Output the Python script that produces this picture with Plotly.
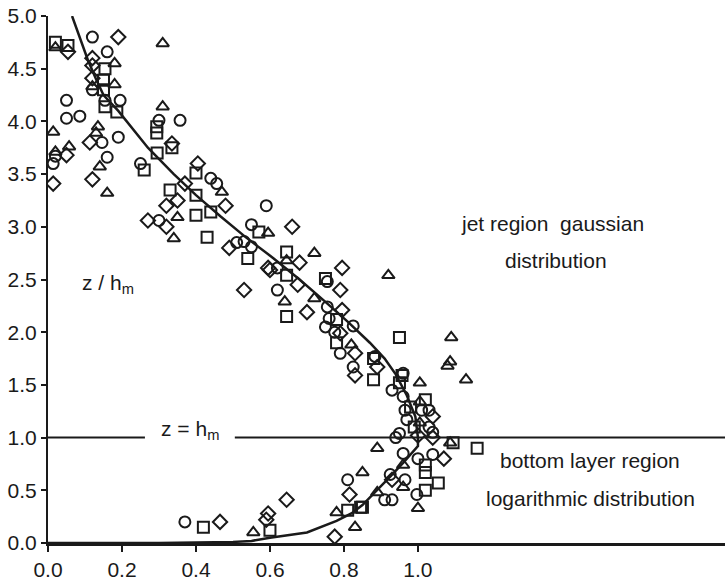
import plotly.graph_objects as go

# ---- data (u/Um, z/hm) ----
circle_u = [0.12, 0.16, 0.12, 0.154, 0.195, 0.30, 0.357, 0.05, 0.05, 0.086, 0.014, 0.02, 0.146, 0.19, 0.16,
            0.25, 0.44, 0.456, 0.30, 0.59, 0.55, 0.51, 0.53, 0.55, 0.62, 0.62, 0.755, 0.755, 0.76, 0.75, 0.775,
            0.825, 0.79, 0.825, 0.884, 0.96, 0.93, 0.96, 0.965, 1.01, 1.03, 0.97, 1.03, 0.95, 1.04, 0.94, 0.96,
            1.04, 1.0, 0.925, 0.965, 0.997, 0.91, 0.93, 0.81, 0.37]
circle_z = [4.80, 4.66, 4.30, 4.20, 4.20, 4.01, 4.01, 4.20, 4.03, 4.05, 3.60, 3.67, 3.80, 3.85, 3.66,
            3.60, 3.46, 3.41, 3.06, 3.20, 3.02, 2.85, 2.86, 2.81, 2.61, 2.40, 2.48, 2.24, 2.13, 2.05, 2.00,
            2.06, 1.80, 1.67, 1.77, 1.61, 1.45, 1.39, 1.26, 1.26, 1.26, 1.17, 1.10, 1.04, 1.05, 1.00, 0.85,
            0.84, 0.80, 0.65, 0.60, 0.46, 0.41, 0.41, 0.60, 0.20]

square_u = [0.02, 0.054, 0.154, 0.15, 0.15, 0.154, 0.186, 0.294, 0.294, 0.26, 0.295, 0.335, 0.40, 0.33, 0.40,
            0.40, 0.44, 0.43, 0.57, 0.54, 0.645, 0.645, 0.645, 0.75, 0.78, 0.78, 0.95, 0.88, 0.88, 0.957, 0.95,
            1.02, 0.98, 0.99, 1.095, 1.16, 1.02, 1.02, 1.055, 1.02, 0.85, 0.81, 0.845, 0.60, 0.42]
square_z = [4.75, 4.72, 4.50, 4.39, 4.30, 4.14, 4.09, 3.95, 3.89, 3.54, 3.70, 3.75, 3.51, 3.35, 3.30,
            3.11, 3.14, 2.90, 2.95, 2.70, 2.76, 2.54, 2.15, 2.51, 2.12, 1.90, 1.95, 1.75, 1.55, 1.59, 1.52,
            1.36, 1.29, 1.10, 0.95, 0.90, 0.74, 0.67, 0.57, 0.50, 0.34, 0.31, 0.34, 0.12, 0.15]

triangle_u = [0.02, 0.31, 0.18, 0.18, 0.12, 0.31, 0.014, 0.02, 0.057, 0.135, 0.13, 0.14, 0.16, 0.47, 0.35,
              0.34, 0.595, 0.72, 0.92, 0.645, 0.64, 0.72, 0.82, 1.09, 1.087, 1.08, 1.13, 1.005, 1.005, 1.005,
              1.087, 0.89, 0.85, 0.96, 0.96, 1.0, 0.89, 0.78, 0.83, 0.555]
triangle_z = [4.70, 4.74, 4.55, 4.35, 4.33, 4.14, 3.90, 3.71, 3.76, 3.95, 3.89, 3.57, 3.32, 3.33, 3.09,
              2.89, 2.94, 2.75, 2.54, 2.68, 2.29, 2.32, 1.88, 1.95, 1.72, 1.68, 1.55, 1.52, 1.34, 1.14,
              0.95, 0.90, 0.67, 0.74, 0.53, 0.33, 0.48, 0.29, 0.15, 0.10]

diamond_u = [0.054, 0.19, 0.12, 0.12, 0.12, 0.014, 0.05, 0.113, 0.12, 0.335, 0.405, 0.37, 0.35, 0.32, 0.27,
             0.32, 0.48, 0.66, 0.49, 0.595, 0.68, 0.675, 0.53, 0.795, 0.60, 0.79, 0.70, 0.795, 0.79, 0.83,
             0.89, 0.83, 1.04, 1.0, 1.04, 1.07, 0.93, 0.815, 0.775, 0.645, 0.595, 0.59, 0.465]
diamond_z = [4.66, 4.80, 4.60, 4.53, 4.41, 3.41, 3.68, 3.80, 3.45, 3.79, 3.60, 3.41, 3.25, 3.20, 3.06,
             3.00, 3.20, 3.00, 2.80, 2.61, 2.66, 2.45, 2.40, 2.61, 2.59, 2.40, 2.19, 2.21, 1.99, 1.80,
             1.67, 1.59, 1.20, 1.02, 1.00, 0.80, 0.60, 0.46, 0.06, 0.41, 0.28, 0.22, 0.20]

# jet region (gaussian) curve
jet_u = [0.065, 0.085, 0.108, 0.13, 0.15, 0.19, 0.27, 0.34, 0.40, 0.466, 0.535, 0.61, 0.68, 0.746, 0.81,
         0.87, 0.91, 0.94, 0.97, 0.993, 1.0]
jet_z = [5.00, 4.80, 4.58, 4.40, 4.25, 4.10, 3.75, 3.50, 3.30, 3.10, 2.90, 2.70, 2.50, 2.30, 2.10,
         1.90, 1.75, 1.60, 1.40, 1.20, 1.00]

# bottom layer (logarithmic) curve
log_u = [0.0, 0.30, 0.50, 0.55, 0.60, 0.70, 0.78, 0.82, 0.85, 0.89, 0.925, 0.96, 1.0, 1.0]
log_z = [0.0, 0.0, 0.01, 0.02, 0.05, 0.10, 0.21, 0.28, 0.36, 0.50, 0.63, 0.76, 0.92, 1.0]

x_ticks = [0.0, 0.2, 0.4, 0.6, 0.8, 1.0]
y_ticks = [0.0, 0.5, 1.0, 1.5, 2.0, 2.5, 3.0, 3.5, 4.0, 4.5, 5.0]

FONT = "Liberation Sans, Arial, Helvetica, sans-serif"
INK = "#1a1a1a"
TXT = 21

fig = go.Figure()

fig.add_trace(go.Scatter(x=jet_u, y=jet_z, mode="lines",
                         line=dict(color=INK, width=2.5), showlegend=False, hoverinfo="skip"))
fig.add_trace(go.Scatter(x=log_u, y=log_z, mode="lines",
                         line=dict(color=INK, width=2.5), showlegend=False, hoverinfo="skip"))

for xs, ys, sym in [(circle_u, circle_z, "circle-open"),
                    (square_u, square_z, "square-open"),
                    (triangle_u, triangle_z, "triangle-up-open"),
                    (diamond_u, diamond_z, "diamond-open")]:
    fig.add_trace(go.Scatter(x=xs, y=ys, mode="markers", showlegend=False,
                             marker=dict(symbol=sym, size=11, color=INK,
                                         line=dict(color=INK, width=2))))

# z = hm reference line, broken around its label
fig.add_shape(type="line", xref="x", yref="y", x0=0.0, x1=0.262, y0=1.0, y1=1.0,
              line=dict(color=INK, width=2))
fig.add_shape(type="line", xref="x", yref="y", x0=0.505, x1=1.83, y0=1.0, y1=1.0,
              line=dict(color=INK, width=2))

ann = dict(font=dict(family=FONT, size=TXT, color=INK), showarrow=False)
fig.add_annotation(x=0.384, y=1.07, text="z = h<sub>m</sub>", **ann)
fig.add_annotation(x=0.162, y=2.46, text="z / h<sub>m</sub>", **ann)
fig.add_annotation(x=1.365, y=3.03, text="jet region  gaussian", **ann)
fig.add_annotation(x=1.373, y=2.68, text="distribution", **ann)
fig.add_annotation(x=1.465, y=0.78, text="bottom layer region", **ann)
fig.add_annotation(x=1.467, y=0.42, text="logarithmic distribution", **ann)
fig.add_annotation(x=1.262, y=-0.28, text="u / U<sub>m</sub>", yanchor="middle", **ann)

fig.update_layout(
    width=725, height=584,
    margin=dict(l=48, r=0, t=16, b=41),
    paper_bgcolor="white", plot_bgcolor="white",
    font=dict(family=FONT, size=TXT, color=INK),
    showlegend=False,
)
fig.update_xaxes(range=[0, 1.83], tickvals=x_ticks, tickformat=".1f",
                 showline=True, linecolor=INK, linewidth=2.5, showgrid=False, zeroline=False,
                 ticks="outside", ticklen=6, tickcolor=INK, tickwidth=1.5,
                 ticklabeloverflow="allow",
                 tickfont=dict(family=FONT, size=TXT, color=INK))
fig.update_yaxes(range=[0, 5.0], tickvals=y_ticks, tickformat=".1f",
                 showline=True, linecolor=INK, linewidth=2, showgrid=False, zeroline=False,
                 ticks="outside", ticklen=5, tickcolor=INK, tickwidth=1.5,
                 ticklabeloverflow="allow",
                 tickfont=dict(family=FONT, size=TXT, color=INK))

fig.write_html(
    "out.html",
    config={"displayModeBar": False},
    post_script="document.body.style.margin='0px';document.documentElement.style.overflow='hidden';",
)
